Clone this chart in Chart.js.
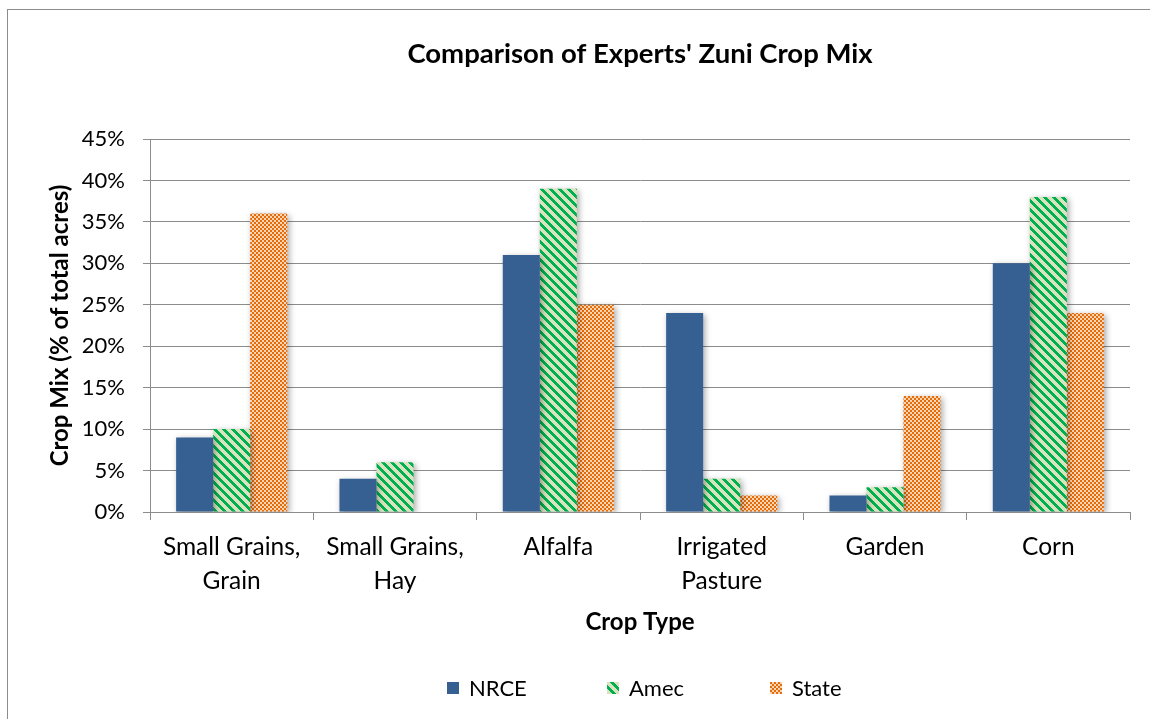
<!DOCTYPE html>
<html lang="en">
<head>
    <meta charset="UTF-8">
    <title>Comparison of Experts' Zuni Crop Mix</title>
    <script src="https://cdn.jsdelivr.net/npm/chart.js"></script>
    <style>
        html, body { margin: 0; padding: 0; background: #fff; overflow: hidden; }
        #frame { position: absolute; left: 7px; top: 9px; width: 1200px; height: 800px; border: 1px solid #8c8c8c; }
        #wrap { position: absolute; left: 0; top: 0; width: 1150px; height: 719px; }
    </style>
</head>
<body>
    <div id="frame"></div>
    <div id="wrap"><canvas id="cropChart" width="1150" height="719"></canvas></div>
    <script>
        // Data
        const cropTypes = [['Small Grains,', 'Grain'], ['Small Grains,', 'Hay'], 'Alfalfa', ['Irrigated', 'Pasture'], 'Garden', 'Corn'];
        const nrce  = [9, 4, 31, 24, 2, 30];
        const amec  = [10, 6, 39, 4, 3, 38];
        const state = [36, 0, 25, 2, 14, 24];
        const yTicks = [0, 5, 10, 15, 20, 25, 30, 35, 40, 45];

        const chartTitle = "Comparison of Experts' Zuni Crop Mix";
        const FONT = 'Lato, "Open Sans", sans-serif';

        // diagonal stripes (green on pale green)
        function stripePattern() {
            const n = 9;
            const c = document.createElement('canvas');
            c.width = n; c.height = n;
            const g = c.getContext('2d');
            const img = g.createImageData(n, n);
            for (let y = 0; y < n; y++) {
                for (let x = 0; x < n; x++) {
                    const on = ((x - y) % n + n) % n < 4;
                    const i = (y * n + x) * 4;
                    const col = on ? [0, 176, 80] : [215, 228, 189];
                    img.data[i] = col[0]; img.data[i + 1] = col[1]; img.data[i + 2] = col[2]; img.data[i + 3] = 255;
                }
            }
            g.putImageData(img, 0, 0);
            return g.createPattern(c, 'repeat');
        }

        // small checker (orange on peach)
        function checkerPattern() {
            const c = document.createElement('canvas');
            c.width = 4; c.height = 4;
            const g = c.getContext('2d');
            g.fillStyle = '#fcd5b5';
            g.fillRect(0, 0, 4, 4);
            g.fillStyle = '#e46c0a';
            g.fillRect(0, 0, 2, 2);
            g.fillRect(2, 2, 2, 2);
            return g.createPattern(c, 'repeat');
        }

        const barShadow = {
            id: 'barShadow',
            beforeDatasetsDraw(chart) {
                const ctx = chart.ctx;
                ctx.save();
                ctx.shadowColor = 'rgba(0,0,0,0.35)';
                ctx.shadowBlur = 6;
                ctx.shadowOffsetX = 2;
                ctx.shadowOffsetY = 2;
            },
            afterDatasetsDraw(chart) {
                chart.ctx.restore();
            }
        };

        // title centred over the plot area, legend spaced wide like Excel does
        const legendX = [447, 607, 770];
        const excelBits = {
            id: 'excelBits',
            afterDraw(chart) {
                const ctx = chart.ctx;
                const area = chart.chartArea;
                ctx.save();
                ctx.fillStyle = '#000';
                ctx.font = 'bold 27.5px ' + FONT;
                ctx.textAlign = 'center';
                ctx.textBaseline = 'alphabetic';
                ctx.fillText(chartTitle, (area.left + area.right) / 2, 63);

                const y = 688;
                ctx.font = '22px ' + FONT;
                ctx.textAlign = 'left';
                ctx.textBaseline = 'middle';
                chart.data.datasets.forEach((ds, i) => {
                    const x = legendX[i];
                    ctx.fillStyle = ds.backgroundColor;
                    ctx.fillRect(x, y - 6, 12, 12);
                    ctx.fillStyle = '#000';
                    ctx.fillText(ds.label, x + 22, y + 1);
                });
                ctx.restore();
            }
        };

        new Chart(document.getElementById('cropChart'), {
            type: 'bar',
            data: {
                labels: cropTypes,
                datasets: [
                    { label: 'NRCE', data: nrce, backgroundColor: '#376092' },
                    { label: 'Amec', data: amec, backgroundColor: stripePattern() },
                    { label: 'State', data: state, backgroundColor: checkerPattern() }
                ]
            },
            options: {
                responsive: false,
                animation: false,
                events: [],
                layout: { padding: { left: 40, right: 20, top: 139, bottom: 62 } },
                datasets: { bar: { categoryPercentage: 0.68, barPercentage: 1.0 } },
                plugins: {
                    title: { display: false },
                    legend: { display: false },
                    tooltip: { enabled: false }
                },
                scales: {
                    x: {
                        afterFit(scale) { scale.height = 145; },
                        grid: { display: true, drawOnChartArea: false, offset: true, color: '#8c8c8c', tickLength: 8 },
                        border: { color: '#8c8c8c' },
                        ticks: { color: '#000', font: { family: FONT, size: 24.5, lineHeight: 1.35 }, padding: 11, maxRotation: 0 },
                        title: {
                            display: true, text: 'Crop Type', color: '#000',
                            font: { family: FONT, size: 24, weight: 'bold', lineHeight: 1.2 },
                            padding: { top: 10, bottom: 20 }
                        }
                    },
                    y: {
                        min: 0,
                        max: 45,
                        afterFit(scale) { scale.width = 110; },
                        afterBuildTicks(scale) { scale.ticks = yTicks.map(v => ({ value: v })); },
                        grid: { color: '#8c8c8c', tickLength: 7 },
                        border: { color: '#8c8c8c' },
                        ticks: {
                            color: '#000', font: { family: FONT, size: 22 }, padding: 18,
                            callback: v => v + '%'
                        },
                        title: {
                            display: true, text: 'Crop Mix (% of total acres)', color: '#000',
                            font: { family: FONT, size: 24, weight: 'bold', lineHeight: 1.2 },
                            padding: { top: 6, bottom: 4 }
                        }
                    }
                }
            },
            plugins: [barShadow, excelBits]
        });
    </script>
</body>
</html>
